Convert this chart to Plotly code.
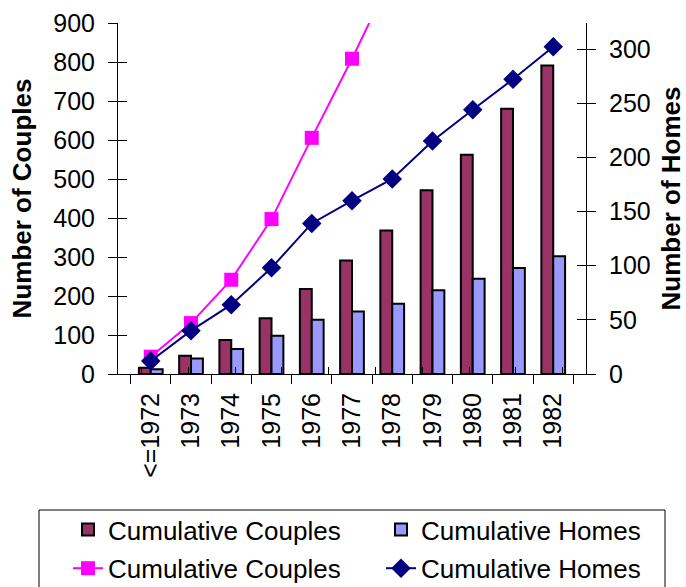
import plotly.graph_objects as go

years = ["<=1972", "1973", "1974", "1975", "1976", "1977", "1978", "1979", "1980", "1981", "1982"]
couples = [16, 47, 87, 143, 218, 291, 368, 471, 562, 680, 791]
homes = [12, 40, 64, 98, 139, 160, 180, 215, 244, 272, 302]
left_ticks = [0, 100, 200, 300, 400, 500, 600, 700, 800, 900]
right_ticks = [0, 50, 100, 150, 200, 250, 300]

FONT = "Arial, 'Liberation Sans', sans-serif"
W, H = 686, 587
L, R, T, B = 118, 100, 23, 213
pw = W - L - R
ph = H - T - B


def px_x(p):
    return (p - L) / pw


def px_y(p):
    return (H - B - p) / ph


fig = go.Figure()
fig.add_trace(go.Bar(x=years, y=couples, name="Cumulative Couples",
                     marker=dict(color="#993366", line=dict(color="black", width=2)),
                     legend="legend", legendgroup="a"))
fig.add_trace(go.Bar(x=years, y=homes, name="Cumulative Homes",
                     marker=dict(color="#9999FF", line=dict(color="black", width=2)),
                     legend="legend2", legendgroup="c"))
fig.add_trace(go.Scatter(x=years, y=couples, name="Cumulative Couples", yaxis="y2",
                         mode="lines+markers", line=dict(color="#FF00FF", width=2),
                         marker=dict(symbol="square", size=14, color="#FF00FF"),
                         legend="legend", legendgroup="b"))
fig.add_trace(go.Scatter(x=years, y=homes, name="Cumulative Homes", yaxis="y2",
                         mode="lines+markers", line=dict(color="#000080", width=2),
                         marker=dict(symbol="diamond", size=15, color="#000080"),
                         legend="legend2", legendgroup="d"))
# mark-less traces that only register the overlay axes carrying the inner tick halves
fig.add_trace(go.Scatter(x=years, y=couples, xaxis="x2", yaxis="y3", mode="none",
                         showlegend=False, hoverinfo="skip"))
fig.add_trace(go.Scatter(x=years, y=homes, xaxis="x2", yaxis="y4", mode="none",
                         showlegend=False, hoverinfo="skip"))

tickfont = dict(family=FONT, size=25, color="black")
titlefont = dict(family=FONT, size=26, color="black", weight="bold")

fig.update_layout(
    width=W, height=H,
    margin=dict(l=L, r=R, t=T, b=B, autoexpand=False),
    paper_bgcolor="white", plot_bgcolor="white",
    barmode="group", bargap=0.41, bargroupgap=0,
    font=dict(family=FONT, color="black"),
    xaxis=dict(type="category", showline=True, linecolor="black", linewidth=1,
               ticks="outside", ticklen=9, tickcolor="black", tickson="boundaries",
               tickangle=-90, tickfont=tickfont, showgrid=False, zeroline=False,
               ticklabelstandoff=8),
    yaxis=dict(range=[0, 900], tickvals=left_ticks, showline=True, linecolor="black",
               linewidth=1, ticks="outside", ticklen=9, tickcolor="black",
               tickfont=tickfont, showgrid=False, zeroline=False,
               title=dict(text="Number of Couples", font=titlefont, standoff=14),
               ticklabelstandoff=8),
    yaxis2=dict(range=[0, 324], tickvals=right_ticks, overlaying="y", side="right",
                showline=True, linecolor="black", linewidth=1, ticks="outside",
                ticklen=9, tickcolor="black", tickfont=tickfont, showgrid=False,
                zeroline=False,
                title=dict(text="Number of Homes", font=titlefont, standoff=17),
                ticklabelstandoff=8),
    yaxis3=dict(range=[0, 900], tickvals=left_ticks, overlaying="y", side="left",
                anchor="x2",
                ticks="inside", ticklen=9, tickcolor="black", showticklabels=False,
                showline=False, showgrid=False, zeroline=False),
    yaxis4=dict(range=[0, 324], tickvals=right_ticks, overlaying="y", side="right",
                anchor="x2",
                ticks="inside", ticklen=9, tickcolor="black", showticklabels=False,
                showline=False, showgrid=False, zeroline=False),
    xaxis2=dict(type="category", overlaying="x", anchor="y3", side="bottom",
                tickson="boundaries", ticks="inside", ticklen=7, tickcolor="black",
                showticklabels=False, showline=False, showgrid=False, zeroline=False),
    legend=dict(x=px_x(68), y=px_y(506), xanchor="left", yanchor="top",
                orientation="v", font=dict(family=FONT, size=26, color="black"),
                bgcolor="rgba(0,0,0,0)", borderwidth=0, tracegroupgap=2,
                traceorder="grouped"),
    legend2=dict(x=px_x(381), y=px_y(506), xanchor="left", yanchor="top",
                 orientation="v", font=dict(family=FONT, size=26, color="black"),
                 bgcolor="rgba(0,0,0,0)", borderwidth=0, tracegroupgap=2,
                 traceorder="grouped"),
    shapes=[dict(type="rect", xref="paper", yref="paper",
                 x0=px_x(39), x1=px_x(665), y0=px_y(510), y1=px_y(605),
                 line=dict(color="black", width=1), fillcolor="rgba(0,0,0,0)")],
)

fig.write_html("out.html")
